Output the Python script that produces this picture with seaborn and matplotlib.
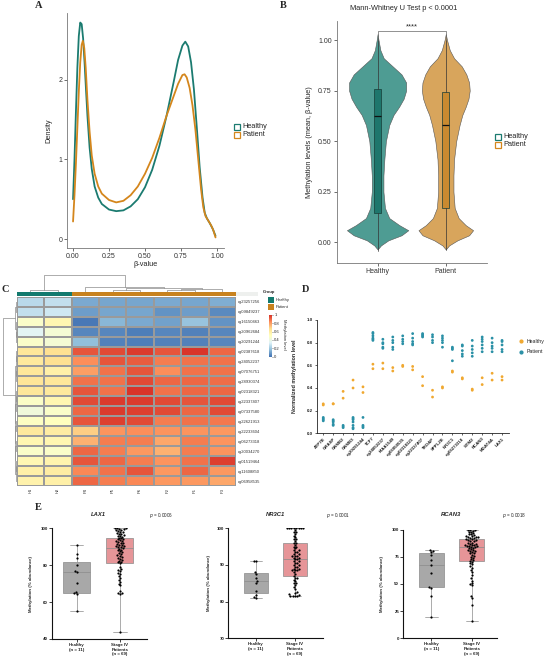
import warnings
warnings.filterwarnings("ignore")
import numpy as np
import pandas as pd
import matplotlib
matplotlib.use("Agg")
import matplotlib.pyplot as plt
import seaborn as sns
from matplotlib.patches import Rectangle
from matplotlib.lines import Line2D
from matplotlib.colors import ListedColormap, LinearSegmentedColormap
from matplotlib.cm import ScalarMappable

# ---------------- DATA ----------------
# Panel A: density curves
beta_h = [0.000, 0.010, 0.020, 0.030, 0.040, 0.050, 0.060, 0.070, 0.080, 0.090, 0.100, 0.115, 0.130,
          0.150, 0.175, 0.200, 0.250, 0.300, 0.350, 0.400, 0.450, 0.500, 0.550, 0.600, 0.650, 0.700,
          0.730, 0.760, 0.780, 0.800, 0.820, 0.840, 0.860, 0.880, 0.900, 0.915, 0.930, 0.950, 0.970, 0.990]
dens_h = [0.50, 1.00, 1.60, 2.15, 2.55, 2.72, 2.70, 2.52, 2.22, 1.88, 1.55, 1.15, 0.88,
          0.66, 0.52, 0.44, 0.37, 0.35, 0.36, 0.41, 0.50, 0.65, 0.87, 1.17, 1.55, 1.98,
          2.25, 2.43, 2.48, 2.42, 2.22, 1.88, 1.40, 0.90, 0.52, 0.33, 0.26, 0.20, 0.13, 0.04]
beta_p = [0.000, 0.010, 0.020, 0.030, 0.040, 0.050, 0.060, 0.068, 0.078, 0.088, 0.100, 0.115, 0.130,
          0.150, 0.175, 0.200, 0.250, 0.300, 0.350, 0.400, 0.450, 0.500, 0.550, 0.600, 0.650, 0.700,
          0.730, 0.760, 0.775, 0.790, 0.810, 0.830, 0.850, 0.870, 0.890, 0.905, 0.920, 0.940, 0.960,
          0.975, 0.990]
dens_p = [0.22, 0.55, 0.95, 1.40, 1.85, 2.22, 2.44, 2.49, 2.40, 2.15, 1.75, 1.35, 1.05,
          0.82, 0.66, 0.57, 0.49, 0.46, 0.48, 0.55, 0.66, 0.82, 1.02, 1.27, 1.55, 1.80,
          1.95, 2.06, 2.07, 2.03, 1.90, 1.68, 1.38, 1.00, 0.62, 0.40, 0.29, 0.23, 0.17,
          0.11, 0.02]

# Panel B: violin profiles (relative density) and box statistics
violin_y = [-0.035, -0.015, 0.01, 0.035, 0.06, 0.085, 0.12, 0.17, 0.25, 0.33, 0.41, 0.50,
            0.58, 0.63, 0.67, 0.71, 0.75, 0.79, 0.83, 0.87, 0.91, 0.95, 1.00, 1.03]
violin_healthy = [0.00, 0.11, 0.35, 0.78, 1.00, 0.71, 0.38, 0.24, 0.19, 0.19, 0.22, 0.27,
                  0.38, 0.52, 0.70, 0.85, 0.93, 0.93, 0.78, 0.49, 0.20, 0.09, 0.03, 0.00]
violin_patient = [0.00, 0.11, 0.38, 0.76, 0.89, 0.65, 0.42, 0.29, 0.25, 0.25, 0.27, 0.34,
                  0.45, 0.54, 0.65, 0.74, 0.78, 0.76, 0.67, 0.52, 0.27, 0.13, 0.04, 0.00]
box_groups = ["Healthy", "Patient"]
box_q1 = [0.147, 0.170]
box_med = [0.625, 0.580]
box_q3 = [0.760, 0.745]
box_lo = [-0.045, -0.040]
box_hi = [1.010, 1.000]

# Panel C: heatmap
hm_cols = ["H1", "H2", "P4", "P5", "P6", "P2", "P1", "P3"]
hm_groups = ["Healthy", "Healthy", "Patient", "Patient", "Patient", "Patient", "Patient", "Patient"]
hm_rows = ["cg23257256", "cg09849237", "cg16150463", "cg20962684", "cg20291244", "cg02387618",
           "cg24052237", "cg07076751", "cg28930374", "cg02318321", "cg22337407", "cg07337580",
           "cg22621913", "cg22233604", "cg06273318", "cg20034270", "cg01519464", "cg11608850",
           "cg06958535"]
hm_values = [
    [0.25, 0.27, 0.12, 0.11, 0.11, 0.12, 0.11, 0.13],
    [0.27, 0.30, 0.09, 0.11, 0.11, 0.07, 0.09, 0.05],
    [0.47, 0.55, 0.01, 0.15, 0.12, 0.10, 0.18, 0.07],
    [0.35, 0.44, 0.04, 0.04, 0.02, 0.04, 0.03, 0.04],
    [0.47, 0.44, 0.17, 0.03, 0.02, 0.03, 0.03, 0.04],
    [0.63, 0.66, 0.93, 0.95, 0.98, 0.93, 0.99, 0.90],
    [0.62, 0.66, 0.83, 0.93, 0.92, 0.86, 0.88, 0.88],
    [0.63, 0.58, 0.80, 0.88, 0.93, 0.83, 0.88, 0.88],
    [0.64, 0.63, 0.88, 0.88, 0.95, 0.90, 0.90, 0.89],
    [0.63, 0.62, 0.93, 0.88, 0.99, 0.88, 0.90, 0.90],
    [0.48, 0.55, 0.95, 0.98, 0.98, 0.95, 0.93, 0.95],
    [0.42, 0.47, 0.90, 0.98, 0.97, 0.95, 0.90, 0.95],
    [0.49, 0.50, 0.93, 0.97, 0.95, 0.86, 0.88, 0.87],
    [0.62, 0.60, 0.70, 0.82, 0.83, 0.82, 0.82, 0.81],
    [0.55, 0.55, 0.76, 0.86, 0.86, 0.78, 0.86, 0.82],
    [0.47, 0.47, 0.90, 0.86, 0.81, 0.76, 0.86, 0.82],
    [0.54, 0.56, 0.93, 0.90, 0.86, 0.82, 0.88, 0.97],
    [0.58, 0.60, 0.84, 0.88, 0.93, 0.81, 0.90, 0.81],
    [0.57, 0.58, 0.90, 0.86, 0.84, 0.81, 0.81, 0.78],
]
# dendrogram merge tables (leaves in display order, new clusters numbered n, n+1, ...)
col_merge_a = [0, 3, 5, 10, 9, 2, 8]
col_merge_b = [1, 4, 6, 7, 11, 12, 13]
col_merge_h = [0.10, 0.12, 0.10, 0.16, 0.20, 0.25, 1.00]
row_merge_a = [0, 3, 2, 19, 5, 7, 23, 9, 26, 12, 14, 16, 30, 29, 28, 27, 25, 22]
row_merge_b = [1, 4, 20, 21, 6, 8, 24, 10, 11, 13, 15, 17, 18, 31, 32, 33, 34, 35]
row_merge_h = [0.06, 0.05, 0.08, 0.12, 0.05, 0.05, 0.07, 0.05, 0.07, 0.05, 0.05, 0.05, 0.07,
               0.09, 0.10, 0.11, 0.13, 1.00]

# Panel D
d_genes = ["ATP7B", "GRASP", "GNMB2", "GNMB3", "cg20291244", "TCF7", "cg24052237", "KIAA1549",
           "cg06958535", "cg02318321", "cg22337407", "TROAP", "SPPL2B", "NR3C1", "cg06273318",
           "STIM2", "RCAN3", "MGAT4A", "LAX1"]
d_healthy = [[0.26, 0.25], [0.26, 0.26], [0.37, 0.31], [0.47, 0.40], [0.41, 0.36], [0.61, 0.57],
             [0.62, 0.57], [0.58, 0.55], [0.60, 0.59], [0.59, 0.56], [0.50, 0.42], [0.38, 0.32],
             [0.41, 0.40], [0.55, 0.54], [0.49, 0.48], [0.39, 0.38], [0.49, 0.43], [0.53, 0.47],
             [0.50, 0.47]]
d_patient = [[0.14, 0.12, 0.11, 0.13], [0.12, 0.10, 0.08, 0.07, 0.11], [0.07, 0.06, 0.05],
             [0.14, 0.12, 0.10, 0.07, 0.05, 0.04, 0.13], [0.14, 0.07, 0.06, 0.05],
             [0.89, 0.88, 0.86, 0.84, 0.83, 0.82], [0.83, 0.80, 0.79, 0.76, 0.75],
             [0.85, 0.82, 0.80, 0.76, 0.74], [0.86, 0.83, 0.81, 0.79],
             [0.88, 0.84, 0.81, 0.79, 0.78], [0.88, 0.87, 0.86, 0.85],
             [0.87, 0.85, 0.82, 0.80], [0.86, 0.84, 0.82, 0.80, 0.76],
             [0.76, 0.75, 0.74, 0.64], [0.78, 0.77, 0.73, 0.70, 0.68],
             [0.82, 0.77, 0.74, 0.71, 0.68], [0.85, 0.83, 0.81, 0.78, 0.75, 0.72],
             [0.84, 0.80, 0.77, 0.75, 0.72], [0.82, 0.81, 0.78, 0.74, 0.72]]

# Panel E
e_genes = ["LAX1", "NR3C1", "RCAN3"]
e_pvals = ["0.0006", "0.0001", "0.0018"]
e_cats = ["Healthy\n(n = 11)", "Stage IV\nPatients\n(n = 69)"]
lax1_healthy = [91, 86, 84, 80, 77, 76.3, 70.5, 65.5, 64.7, 64.3, 55]
lax1_patient = [100, 100, 100, 99.5, 99.5, 99, 99, 98.5, 98, 98, 97.5, 97, 97, 96.5, 96, 96, 95.5, 95,
                94.5, 94, 94, 93.5, 93, 93, 92.5, 92, 92, 91.5, 91, 91, 90.5, 90.5, 90, 90, 89.5,
                89, 88.5, 88, 87.5, 87, 86.5, 86, 85.5, 85, 84.5, 84, 83.5, 83, 82.5, 82, 81.5, 81,
                79, 78, 77.5, 77, 76, 75.5, 74, 73, 72, 71, 70, 69, 66, 65, 65, 64.5, 44]
nr3c1_healthy = [91.2, 91, 88, 87.5, 86.5, 85.5, 85, 83, 81.8, 81.2, 81.0]
nr3c1_patient = [100, 100, 100, 100, 100, 100, 100, 100, 99.5, 99, 99, 98.5, 98, 97.5, 97, 97, 96.5,
                 96, 96, 95.5, 95, 95, 94.5, 94, 94, 93.5, 93.5, 93, 93, 92.5, 92.5, 92.5, 92, 92,
                 91.5, 91.5, 91, 91, 90.5, 90.5, 90, 90, 89.5, 89.5, 89, 89, 88.5, 88.5, 88.5, 88, 87.5,
                 87, 86.5, 86.5, 86, 85.5, 85, 85, 84.5, 84, 83.5, 82.5, 82, 81.8, 81.6, 81.6, 81.5,
                 81.5, 82.3]
rcan3_healthy = [81, 80, 79, 77, 72, 67, 60, 47.5, 46.5, 39, 20]
rcan3_patient = [100, 100, 100, 99, 98, 98, 97, 96, 96, 95, 94, 94, 93, 93, 93, 92, 92,
                 91, 91, 90, 90, 89, 89, 88, 88, 87, 87, 86, 86, 86, 85, 85, 85, 84,
                 84, 83, 83, 82, 81, 81, 80, 80, 79, 78, 78, 77, 76, 75, 74, 73, 72,
                 71, 70, 69, 68, 66, 65, 63, 61, 58, 55, 53, 51, 50, 49, 39, 37, 31, 16]
e_ylims = [(40, 100), (70, 100), (0, 100)]
e_yticks = [[40, 60, 80, 100], [70, 80, 90, 100], [0, 25, 50, 75, 100]]

# ---------------- STYLE ----------------
W, H = 546, 661
sns.set_theme(style="ticks")
plt.rcParams["font.family"] = ["Liberation Sans", "DejaVu Sans"]
plt.rcParams["axes.linewidth"] = 0.6

C_H = "#1B7B70"
C_P = "#D4861C"
V_H = "#4E9C93"
V_P = "#D8A55C"
B_H = "#1E766C"
B_P = "#C98A30"
G_H = "#137A6E"
G_P = "#C8821E"
D_H = "#F0A830"
D_P = "#2A90A6"
E_H = "#A8A8A8"
E_P = "#F4878B"

fig = plt.figure(figsize=(W / 100, H / 100), dpi=100)


def add_ax(l, t, r, b):
    return fig.add_axes([l / W, 1 - b / H, (r - l) / W, (b - t) / H])


def ftext(x, y, s, **kw):
    fig.text(x / W, 1 - y / H, s, **kw)


def panel_label(x, y, s):
    ftext(x, y, s, fontsize=7.5, fontweight="bold", family="Liberation Serif", ha="left", va="center")


def style_axis(ax, color="#333333"):
    for s in ["top", "right"]:
        ax.spines[s].set_visible(False)
    for s in ["left", "bottom"]:
        ax.spines[s].set_color(color)
        ax.spines[s].set_linewidth(0.6)


# ---------------- PANEL A ----------------
panel_label(35, 6, "A")
axA = add_ax(67, 13, 224, 248)
dfA = pd.concat([
    pd.DataFrame({"beta": beta_h, "density": dens_h, "group": "Healthy"}),
    pd.DataFrame({"beta": beta_p, "density": dens_p, "group": "Patient"}),
])
sns.lineplot(data=dfA, x="beta", y="density", hue="group", palette={"Healthy": C_H, "Patient": C_P},
             estimator=None, sort=False, lw=1.3, ax=axA, legend=False)
axA.set_xlim(-0.042, 1.049)
axA.set_ylim(-0.113, 2.84)
axA.set_xticks([0, 0.25, 0.5, 0.75, 1.0])
axA.set_xticklabels(["0.00", "0.25", "0.50", "0.75", "1.00"])
axA.set_yticks([0, 1, 2])
axA.tick_params(labelsize=5, length=2, width=0.5, pad=1.5, colors="#333333")
axA.set_xlabel("β-value", fontsize=5.3, labelpad=1)
axA.set_ylabel("Density", fontsize=5.3)
axA.yaxis.set_label_coords(-0.09, 0.5)
style_axis(axA, "#777777")
for i, (lab, col) in enumerate([("Healthy", C_H), ("Patient", C_P)]):
    y = 127 + i * 8
    fig.add_artist(Rectangle((233.5 / W, 1 - (y + 3) / H), 6 / W, 6 / H, facecolor="white",
                             edgecolor=col, lw=0.9, transform=fig.transFigure))
    ftext(242, y, lab, fontsize=5.3, va="center", ha="left")

# ---------------- PANEL B ----------------
panel_label(280, 6, "B")
ftext(404, 8, "Mann-Whitney U Test p < 0.0001", fontsize=5.3, ha="center", va="center")
axB = add_ax(336.7, 21, 486.7, 263)
dfB = pd.DataFrame({"y": violin_y, "Healthy": violin_healthy, "Patient": violin_patient})
for i, (g, col) in enumerate([("Healthy", V_H), ("Patient", V_P)]):
    hw = dfB[g].to_numpy() * 0.45
    axB.fill_betweenx(dfB["y"].to_numpy(), i - hw, i + hw, facecolor=col, edgecolor="#555555",
                      lw=0.4, zorder=1)
stats = []
for i, g in enumerate(box_groups):
    stats.append(dict(med=box_med[i], q1=box_q1[i], q3=box_q3[i], whislo=box_lo[i], whishi=box_hi[i],
                      label=g))
bp = axB.bxp(stats, positions=[0, 1], widths=0.1, patch_artist=True, showcaps=False,
             showfliers=False, manage_ticks=False, zorder=2,
             boxprops=dict(lw=0.5, edgecolor="#143c36"),
             whiskerprops=dict(lw=0.5, color="#333333"),
             medianprops=dict(lw=0.9, color="#111111"))
for patch, col in zip(bp["boxes"], [B_H, B_P]):
    patch.set_facecolor(col)
axB.plot([0, 0, 1, 1], [1.0, 1.045, 1.045, 1.0], color="#666666", lw=0.5)
axB.text(0.5, 1.05, "****", ha="center", va="bottom", fontsize=5.5)
axB.set_xlim(-0.6, 1.6)
axB.set_ylim(-0.102, 1.094)
axB.set_xticks([0, 1])
axB.set_xticklabels(box_groups)
axB.set_yticks([0, 0.25, 0.5, 0.75, 1.0])
axB.set_yticklabels(["0.00", "0.25", "0.50", "0.75", "1.00"])
axB.tick_params(labelsize=5, length=2, width=0.5, pad=1.5, colors="#333333")
axB.set_ylabel("Methylation levels (mean, β-value)", fontsize=5.3)
axB.yaxis.set_label_coords(-0.158, 0.5)
style_axis(axB, "#777777")
for i, (lab, col) in enumerate([("Healthy", C_H), ("Patient", C_P)]):
    y = 137 + i * 8
    fig.add_artist(Rectangle((494.5 / W, 1 - (y + 3) / H), 6 / W, 6 / H, facecolor="white",
                             edgecolor=col, lw=0.9, transform=fig.transFigure))
    ftext(503, y, lab, fontsize=5.3, va="center", ha="left")

# ---------------- PANEL C ----------------
panel_label(2, 289, "C")
hm_cmap = LinearSegmentedColormap.from_list(
    "pheat", ["#4575B4", "#91BFDB", "#E0F3F8", "#FFFFBF", "#FEE090", "#FC8D59", "#D73027"])
dfC = pd.DataFrame(hm_values, index=hm_rows, columns=hm_cols)
axC = add_ax(16.7, 296.7, 236, 486)
sns.heatmap(dfC, ax=axC, cmap=hm_cmap, vmin=0, vmax=1, cbar=False, linewidths=0.35,
            linecolor="#9a9a9a", xticklabels=True, yticklabels=True)
axC.yaxis.tick_right()
axC.set_yticklabels(hm_rows, rotation=0, fontsize=3.0, color="#333333")
axC.set_xticklabels(hm_cols, rotation=90, fontsize=3.0, color="#333333")
axC.tick_params(length=0, pad=1.2)
axC.set_xlabel("")
axC.set_ylabel("")

axG = add_ax(16.7, 291.7, 236, 295.7)
grp_codes = pd.DataFrame([[0 if g == "Healthy" else 1 for g in hm_groups]], columns=hm_cols)
sns.heatmap(grp_codes, ax=axG, cmap=ListedColormap([G_H, G_P]), vmin=0, vmax=1, cbar=False,
            xticklabels=False, yticklabels=False)
fig.add_artist(Rectangle((236.3 / W, 1 - 295.7 / H), 22 / W, 4 / H, facecolor="#eef0ee",
                         edgecolor="none", transform=fig.transFigure))


def dendro_segments(n, ma, mb, mh):
    pos = {i: i + 0.5 for i in range(n)}
    hgt = {i: 0.0 for i in range(n)}
    segs = []
    for k, (a, b, h) in enumerate(zip(ma, mb, mh)):
        segs.append(([pos[a], pos[a], pos[b], pos[b]], [hgt[a], h, h, hgt[b]]))
        pos[n + k] = (pos[a] + pos[b]) / 2
        hgt[n + k] = h
    return segs


axDc = add_ax(16.7, 274.5, 236, 291.5)
for xs, ys in dendro_segments(len(hm_cols), col_merge_a, col_merge_b, col_merge_h):
    axDc.plot(xs, ys, color="#8c8c8c", lw=0.5)
axDc.set_xlim(0, len(hm_cols))
axDc.set_ylim(0, 1.02)
axDc.axis("off")

axDr = add_ax(0, 296.7, 16.7, 486)
for xs, ys in dendro_segments(len(hm_rows), row_merge_a, row_merge_b, row_merge_h):
    axDr.plot(ys, xs, color="#8c8c8c", lw=0.5)
axDr.set_ylim(len(hm_rows), 0)
axDr.set_xlim(1.2, 0)
axDr.axis("off")

# group legend + colorbar
ftext(263, 291.5, "Group", fontsize=3.0, fontweight="bold", ha="left", va="center")
for i, (lab, col) in enumerate([("Healthy", G_H), ("Patient", G_P)]):
    y0 = 296.5 + i * 7.5
    fig.add_artist(Rectangle((267.5 / W, 1 - (y0 + 6.5) / H), 6 / W, 6.5 / H, facecolor=col,
                             edgecolor="none", transform=fig.transFigure))
    ftext(275.5, y0 + 3.3, lab, fontsize=3.0, ha="left", va="center")
caxC = add_ax(268.5, 315, 271.5, 356.5)
cb = fig.colorbar(ScalarMappable(cmap=hm_cmap, norm=plt.Normalize(0, 1)), cax=caxC)
cb.set_ticks([0, 0.2, 0.4, 0.6, 0.8, 1.0])
cb.set_ticklabels(["0", "0.2", "0.4", "0.6", "0.8", "1"])
cb.outline.set_visible(False)
caxC.tick_params(labelsize=3.0, length=1, width=0.4, pad=1)
ftext(284.5, 334, "Methylation level", fontsize=3.0, rotation=270, ha="center", va="center")

# ---------------- PANEL D ----------------
panel_label(302, 289, "D")
rowsD = []
for g, hv, pv in zip(d_genes, d_healthy, d_patient):
    for v in hv:
        rowsD.append((g, "Healthy", v))
    for v in pv:
        rowsD.append((g, "Patient", v))
dfD = pd.DataFrame(rowsD, columns=["gene", "group", "value"])
axD = add_ax(316.7, 320, 509, 433.3)
sns.stripplot(data=dfD, x="gene", y="value", hue="group", order=d_genes,
              palette={"Healthy": D_H, "Patient": D_P}, jitter=False, dodge=False, size=2.0,
              linewidth=0, ax=axD, legend=False)
axD.set_xlim(-0.66, 18.7)
axD.set_ylim(0, 1.0)
axD.set_yticks([0, 0.2, 0.4, 0.6, 0.8, 1.0])
axD.set_yticklabels(["0.0", "0.2", "0.4", "0.6", "0.8", "1.0"])
axD.set_xticks(range(len(d_genes)))
axD.set_xticklabels(d_genes, rotation=45, ha="right", rotation_mode="anchor")
for t in axD.get_xticklabels() + axD.get_yticklabels():
    t.set_fontweight("bold")
axD.tick_params(axis="both", labelsize=3.2, length=1.5, width=0.5, pad=1, colors="#222222")
axD.set_xlabel("")
axD.set_ylabel("Normalized methylation level", fontsize=3.8, fontweight="bold")
axD.yaxis.set_label_coords(-0.105, 0.5)
style_axis(axD, "#222222")
for i, (lab, col) in enumerate([("Healthy", D_H), ("Patient", D_P)]):
    y = 341 + i * 10.7
    fig.add_artist(Line2D([520.7 / W], [1 - y / H], marker="o", markersize=2.0, color=col, lw=0,
                          transform=fig.transFigure))
    ftext(527, y, lab, fontsize=3.8, ha="left", va="center")

# ---------------- PANEL E ----------------
panel_label(35, 508, "E")
e_axes_px = [(52, 528.3, 146.7, 639), (228.3, 528.3, 323, 638.3), (403.3, 529.5, 497, 638.3)]
e_xlims = [(-0.57, 1.62), (-0.71, 1.72), (-0.69, 1.62)]
e_ylab_x = [-0.2, -0.186, -0.206]
e_title_x = [98.4, 275.5, 451]
e_p_x = [161, 338, 514]
e_healthy = [lax1_healthy, nr3c1_healthy, rcan3_healthy]
e_patient = [lax1_patient, nr3c1_patient, rcan3_patient]
for k in range(3):
    dfE = pd.concat([pd.DataFrame({"group": e_cats[0], "value": e_healthy[k]}),
                     pd.DataFrame({"group": e_cats[1], "value": e_patient[k]})])
    ax = add_ax(*e_axes_px[k])
    sns.boxplot(data=dfE, x="group", y="value", hue="group", order=e_cats,
                palette={e_cats[0]: E_H, e_cats[1]: E_P}, width=0.62, whis=(0, 100),
                showfliers=False, linewidth=0.5, linecolor="#8a8a8a", legend=False, ax=ax)
    sns.swarmplot(data=dfE, x="group", y="value", order=e_cats, color="black", size=1.6, ax=ax)
    ax.set_xlim(*e_xlims[k])
    ax.set_ylim(*e_ylims[k])
    ax.set_yticks(e_yticks[k])
    ax.set_xlabel("")
    ax.set_ylabel("Methylation (% abundance)", fontsize=3.2, fontweight="bold")
    ax.yaxis.set_label_coords(e_ylab_x[k], 0.5)
    for t in ax.get_xticklabels() + ax.get_yticklabels():
        t.set_fontweight("bold")
    ax.tick_params(axis="both", labelsize=3.2, length=2, width=0.6, pad=1, colors="#222222")
    style_axis(ax, "#111111")
    ax.spines["left"].set_linewidth(0.8)
    ax.spines["bottom"].set_linewidth(0.8)
    ftext(e_title_x[k], 515, e_genes[k], fontsize=4.2, fontweight="bold", fontstyle="italic",
          ha="center", va="center")
    ftext(e_p_x[k], 515, "$\\it{p}$ = " + e_pvals[k], fontsize=3.3, ha="center", va="center")

fig.savefig("out.png", dpi=100)
